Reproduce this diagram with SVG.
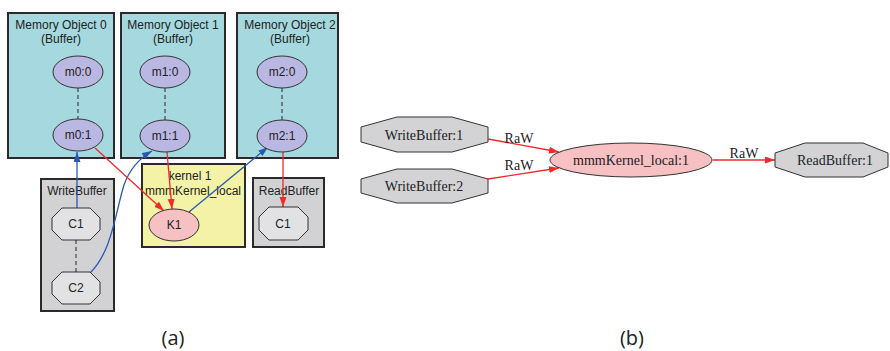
<svg xmlns="http://www.w3.org/2000/svg" width="890" height="351" viewBox="0 0 890 351">
<style>
.box{stroke:#2a2a2a;stroke-width:2}
.mem{fill:#a5d9df}
.ker{fill:#f4f2a6}
.buf{fill:#d2d2d4}
.t{font-family:"Liberation Sans",Arial,sans-serif;font-size:12px;fill:#222;text-anchor:middle}
.s{font-family:"Liberation Serif","Times New Roman",serif;font-size:14px;fill:#222;text-anchor:middle}
.cap{font-family:"Open Sans","Noto Sans",sans-serif;font-size:20px;fill:#222;text-anchor:middle}
.me{fill:#bab8e2;stroke:#333;stroke-width:1}
.ke{fill:#f7c0c2;stroke:#333;stroke-width:1}
.oct{fill:#e2e2e4;stroke:#333;stroke-width:1}
.octb{fill:#d3d3d5;stroke:#333;stroke-width:1}
.dash{stroke:#444;stroke-width:1.2;stroke-dasharray:4 3;fill:none}
.red{stroke:#ee2a2a;stroke-width:1.3;fill:none;marker-end:url(#ar)}
.blue{stroke:#2a5ab0;stroke-width:1.3;fill:none;marker-end:url(#ab)}
</style>
<defs>
<marker id="ar" markerUnits="userSpaceOnUse" markerWidth="11" markerHeight="8" refX="10" refY="3.5" orient="auto"><path d="M0,0 L10,3.5 L0,7 z" fill="#ee2a2a"/></marker>
<marker id="ab" markerUnits="userSpaceOnUse" markerWidth="11" markerHeight="8" refX="10" refY="3.5" orient="auto"><path d="M0,0 L10,3.5 L0,7 z" fill="#2a5ab0"/></marker>
</defs>
<g id="memobj0">
<rect class="box mem" x="8" y="13" width="106" height="145"/>
<text class="t" x="61" y="29">Memory Object 0</text>
<text class="t" x="61" y="43">(Buffer)</text>
</g>
<g id="memobj1">
<rect class="box mem" x="121" y="13" width="104" height="145"/>
<text class="t" x="173" y="29">Memory Object 1</text>
<text class="t" x="173" y="43">(Buffer)</text>
</g>
<g id="memobj2">
<rect class="box mem" x="237" y="13" width="101" height="145"/>
<text class="t" x="290" y="29">Memory Object 2</text>
<text class="t" x="290" y="43">(Buffer)</text>
</g>
<g id="writebuffer">
<rect class="box buf" x="41" y="179" width="73" height="132"/>
<text class="t" x="77" y="195">WriteBuffer</text>
</g>
<g id="kernel1">
<rect class="box ker" x="142" y="164" width="103" height="83"/>
<text class="t" x="190" y="180">kernel 1</text>
<text class="t" x="193" y="195">mmmKernel_local</text>
</g>
<g id="readbuffer">
<rect class="box buf" x="253" y="178" width="71" height="69"/>
<text class="t" x="289" y="195">ReadBuffer</text>
</g>
<g id="connectors">
<line class="dash" x1="78" y1="88" x2="78" y2="119"/>
<line class="dash" x1="165" y1="88" x2="165" y2="120"/>
<line class="dash" x1="282" y1="88" x2="282" y2="120"/>
<line class="dash" x1="76" y1="240" x2="76" y2="272"/>
<path class="blue" d="M77,208 L77,152"/>
<path class="blue" d="M90,273 C112,252 116,210 124,185 C130,168 140,158 152,151"/>
<path class="red" d="M95,148 L164,211"/>
<path class="red" d="M167,152 L172,209"/>
<path class="blue" d="M189,212 L268,147"/>
<path class="red" d="M283,152 L283,207"/>
<path class="red" d="M488,139 L559,152"/>
<path class="red" d="M488,179 L559,168"/>
<path class="red" d="M713,160 L775,160"/>
<text class="s" x="519" y="143">RaW</text>
<text class="s" x="519" y="170">RaW</text>
<text class="s" x="744" y="158">RaW</text>
</g>
<g id="m0_0"><ellipse class="me" cx="78" cy="72" rx="25" ry="16"/><text class="t" x="78" y="76">m0:0</text></g>
<g id="m0_1"><ellipse class="me" cx="78" cy="135" rx="25" ry="16"/><text class="t" x="78" y="139">m0:1</text></g>
<g id="m1_0"><ellipse class="me" cx="165" cy="72" rx="25" ry="16"/><text class="t" x="165" y="76">m1:0</text></g>
<g id="m1_1"><ellipse class="me" cx="165" cy="136" rx="25" ry="16"/><text class="t" x="165" y="140">m1:1</text></g>
<g id="m2_0"><ellipse class="me" cx="282" cy="72" rx="25" ry="16"/><text class="t" x="282" y="76">m2:0</text></g>
<g id="m2_1"><ellipse class="me" cx="282" cy="136" rx="25" ry="16"/><text class="t" x="282" y="140">m2:1</text></g>
<g id="k1"><ellipse class="ke" cx="174" cy="225" rx="25" ry="16"/><text class="t" x="174" y="229">K1</text></g>
<g id="wc1"><polygon class="oct" points="62,208 90,208 100,218 100,230 90,240 62,240 52,230 52,218"/><text class="t" x="76" y="228">C1</text></g>
<g id="wc2"><polygon class="oct" points="62,272 90,272 100,282 100,294 90,304 62,304 52,294 52,282"/><text class="t" x="76" y="292">C2</text></g>
<g id="rc1"><polygon class="oct" points="269,207 298,207 308,217 308,230 298,240 269,240 259,230 259,217"/><text class="t" x="283" y="228">C1</text></g>
<g id="wb1"><polygon class="octb" points="397,117 452,117 488,127 488,142 452,152 397,152 361,142 361,127"/><text class="s" x="424" y="140">WriteBuffer:1</text></g>
<g id="wb2"><polygon class="octb" points="397,169 452,169 488,179 488,193 452,203 397,203 361,193 361,179"/><text class="s" x="424" y="191">WriteBuffer:2</text></g>
<g id="kern"><ellipse class="ke" cx="631" cy="160" rx="81" ry="17"/><text class="s" x="631" y="165">mmmKernel_local:1</text></g>
<g id="rb1"><polygon class="octb" points="805,143 863,143 888,153 888,167 863,177 805,177 775,167 775,153"/><text class="s" x="835" y="165">ReadBuffer:1</text></g>
<text class="cap" x="173" y="345">(a)</text>
<text class="cap" x="632" y="345">(b)</text>
</svg>
